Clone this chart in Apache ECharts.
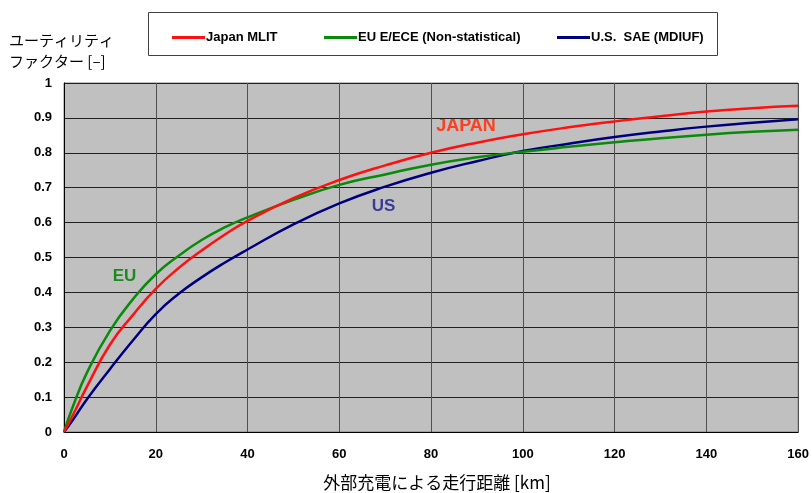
<!DOCTYPE html>
<html>
<head>
<meta charset="utf-8">
<script src="https://cdn.jsdelivr.net/npm/echarts@6/dist/echarts.min.js"></script>
<style>
  html, body { margin: 0; padding: 0; background: #ffffff; }
  #chart { width: 812px; height: 493px; }
</style>
</head>
<body>
<div id="chart"></div>
<script>
// Electric driving distance [km]
const distanceKm = [0, 2, 5, 10, 15, 20, 25, 30, 35, 40, 50, 60, 70, 80, 90, 100, 110, 120, 130, 140, 150, 160];

// Utility factor curves
const japanMlit = [0, 0.05, 0.13, 0.25, 0.335, 0.41, 0.47, 0.52, 0.565, 0.605, 0.67, 0.722, 0.764, 0.80, 0.829, 0.853, 0.873, 0.89, 0.905, 0.918, 0.928, 0.935];
const euEce = [0, 0.075, 0.17, 0.29, 0.38, 0.452, 0.505, 0.55, 0.586, 0.615, 0.665, 0.708, 0.738, 0.766, 0.787, 0.803, 0.817, 0.83, 0.842, 0.852, 0.86, 0.866];
const usSae = [0, 0.036, 0.094, 0.18, 0.262, 0.338, 0.396, 0.443, 0.485, 0.523, 0.595, 0.655, 0.703, 0.743, 0.776, 0.805, 0.826, 0.845, 0.861, 0.875, 0.886, 0.896];

const seriesNames = ['Japan MLIT', 'EU E/ECE (Non-statistical)', 'U.S.  SAE (MDIUF)'];
const seriesColors = ['#ff1010', '#0a8a0a', '#00007f'];

const xTicks = [0, 20, 40, 60, 80, 100, 120, 140, 160];
const yTicks = [0, 0.1, 0.2, 0.3, 0.4, 0.5, 0.6, 0.7, 0.8, 0.9, 1];

const pairs = vals => distanceKm.map((d, i) => [d, vals[i]]);

const chart = echarts.init(document.getElementById('chart'), null, { renderer: 'canvas' });

const latin = 'Arial, "Liberation Sans", sans-serif';

function legendAt(name, left) {
  return {
    data: [{ name: name, icon: 'rect' }],
    left: left,
    top: 31,
    padding: 0,
    itemWidth: 33,
    itemHeight: 3,
    itemGap: 0,
    textStyle: { fontFamily: latin, fontWeight: 'bold', fontSize: 13, color: '#000', padding: [0, 0, 0, -4] },
    selectedMode: false
  };
}

chart.setOption({
  animation: false,
  backgroundColor: '#ffffff',
  grid: { left: 64, right: 12, top: 83, bottom: 61, backgroundColor: '#c0c0c0', show: true, borderColor: '#808080', borderWidth: 1 },
  legend: [
    legendAt(seriesNames[0], 172),
    legendAt(seriesNames[1], 324),
    legendAt(seriesNames[2], 557)
  ],
  xAxis: {
    type: 'value',
    min: 0, max: 160, interval: 20,
    axisLine: { show: true, lineStyle: { color: '#000', width: 1 } },
    axisTick: { show: false },
    axisLabel: { fontFamily: latin, fontWeight: 'bold', fontSize: 13, color: '#000', margin: 16,
      formatter: v => xTicks.includes(v) ? String(v) : '' },
    splitLine: { show: true, lineStyle: { color: '#505050', width: 1 } }
  },
  yAxis: {
    type: 'value',
    min: 0, max: 1, interval: 0.1,
    axisLine: { show: true, lineStyle: { color: '#000', width: 1 } },
    axisTick: { show: false },
    axisLabel: { fontFamily: latin, fontWeight: 'bold', fontSize: 13, color: '#000', margin: 12,
      formatter: v => {
        const t = yTicks.find(k => Math.abs(k - v) < 1e-9);
        return t === undefined ? '' : String(t);
      } },
    splitLine: { show: true, lineStyle: { color: '#202020', width: 1 } }
  },
  series: [japanMlit, euEce, usSae].map((vals, i) => ({
    name: seriesNames[i],
    type: 'line',
    data: pairs(vals),
    smooth: 0.5,
    showSymbol: false,
    symbol: 'none',
    color: seriesColors[i],
    lineStyle: { color: seriesColors[i], width: 2.5 },
    z: 3 - i
  })),
  graphic: [
    { type: 'rect', left: 148, top: 12, shape: { width: 569, height: 43 },
      style: { fill: '#fff', stroke: '#404040', lineWidth: 1 }, z: -1 },
    { type: 'text', left: 9, top: 30,
      style: { text: 'ユーティリティ\nファクター [–]', font: '15px "Noto Sans CJK JP", sans-serif', fill: '#000', lineHeight: 21 } },
    { type: 'text', x: 437, y: 483,
      style: { text: '外部充電による走行距離 [km]', font: '17px "Noto Sans CJK JP", sans-serif', fill: '#000', align: 'center', verticalAlign: 'middle' } },
    { type: 'text', x: 124.5, y: 276,
      style: { text: 'EU', font: 'bold 17px Arial, "Liberation Sans", sans-serif', fill: '#1a8a1a', align: 'center', verticalAlign: 'middle' } },
    { type: 'text', x: 466, y: 126,
      style: { text: 'JAPAN', font: 'bold 18px Arial, "Liberation Sans", sans-serif', fill: '#ff4020', align: 'center', verticalAlign: 'middle' } },
    { type: 'text', x: 383.5, y: 206,
      style: { text: 'US', font: 'bold 17px Arial, "Liberation Sans", sans-serif', fill: '#3a3a9a', align: 'center', verticalAlign: 'middle' } }
  ]
});
</script>
</body>
</html>
